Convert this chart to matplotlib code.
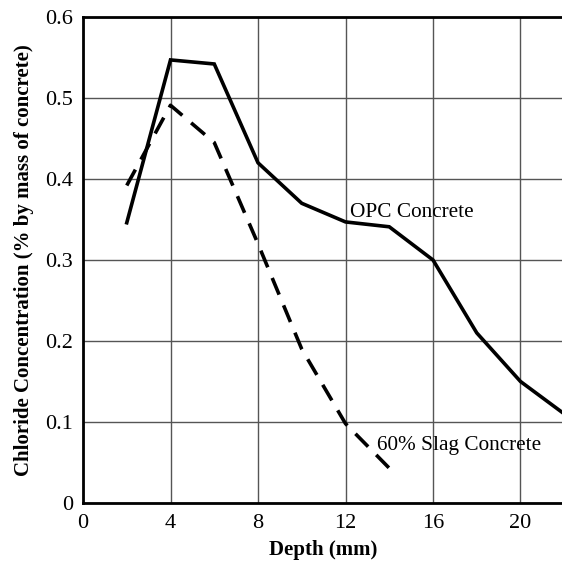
import numpy as np
import matplotlib.pyplot as plt

plt.rcParams['font.family'] = 'Liberation Serif'

# data
depth_opc = [2, 4, 6, 8, 10, 12, 14, 16, 18, 20, 22]
cl_opc = [0.346, 0.547, 0.542, 0.42, 0.37, 0.347, 0.341, 0.30, 0.21, 0.15, 0.11]

depth_slag = [2, 4, 6, 8, 10, 12, 14]
cl_slag = [0.392, 0.491, 0.445, 0.32, 0.19, 0.098, 0.043]

xticks = [0, 4, 8, 12, 16, 20]
yticks = [0, 0.1, 0.2, 0.3, 0.4, 0.5, 0.6]
yticklabels = ['0', '0.1', '0.2', '0.3', '0.4', '0.5', '0.6']

fig = plt.figure(figsize=(5.62, 5.61), dpi=100)
ax = fig.add_axes([0.1477, 0.1034, 0.8523 + 0.004, 0.8663])

ax.plot(depth_opc, cl_opc, color='black', lw=2.6, solid_joinstyle='miter')
ax.plot(depth_slag, cl_slag, color='black', lw=2.6, dashes=(5.0, 3.2))

ax.set_xlim(0, 22)
ax.set_ylim(0, 0.6)
ax.set_xticks(xticks)
ax.set_yticks(yticks)
ax.set_yticklabels(yticklabels)
ax.tick_params(length=0, labelsize=16)
ax.tick_params(axis='y', pad=7)
ax.tick_params(axis='x', pad=8)

ax.grid(True, color='#555555', lw=1.0)
ax.set_axisbelow(True)
for s in ['left', 'bottom', 'top']:
    ax.spines[s].set_linewidth(2)
ax.spines['right'].set_visible(False)

ax.set_xlabel('Depth (mm)', fontsize=15, fontweight='bold', labelpad=5)
ax.set_ylabel('Chloride Concentration (% by mass of concrete)', fontsize=15,
              fontweight='bold', labelpad=8)

ax.text(12.2, 0.353, 'OPC Concrete', fontsize=15.3)
ax.text(13.45, 0.066, '60% Slag Concrete', fontsize=15.3)

plt.savefig('out.png', dpi=100)
